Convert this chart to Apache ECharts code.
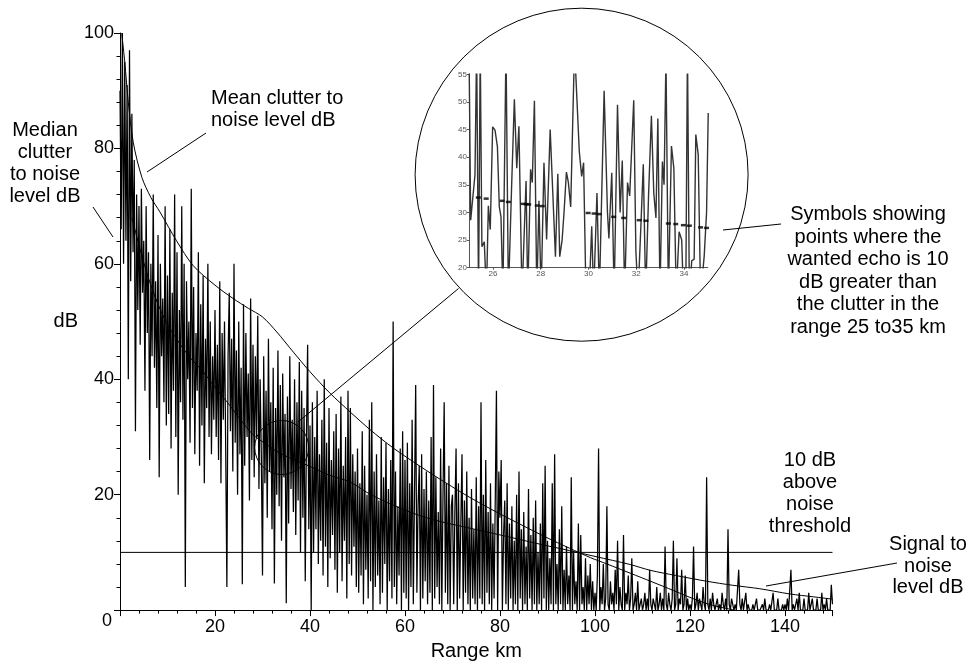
<!DOCTYPE html>
<html>
<head>
<meta charset="utf-8">
<script src="https://cdn.jsdelivr.net/npm/echarts@6/dist/echarts.min.js"></script>
<style>
html,body{margin:0;padding:0;background:#fff;}
#chart{width:973px;height:666px;}
</style>
</head>
<body>
<div id="chart"></div>
<script>
// ---------- DATA ----------
// Clutter-to-noise samples (dB), one value every 0.25 km, in 10 km blocks
const RANGE_STEP_KM = 0.25;
const clutter_000_010 = [90,66,100,60,95,64,91,40,97,57,86,62,78,31,72,52,70,46,73,55,64,38,70,48,62,26,60,44,72,42,57,35,65,23,60,44,54,36,70,32];
const clutter_010_020 = [58,34,66,28,55,38,72,30,62,20,52,36,70,33,60,4,57,40,50,29,73,35,56,27,48,38,62,25,53,32,58,22,47,35,60,30,50,27,44,33];
const clutter_020_030 = [52,30,46,26,57,22,48,33,50,28,4,44,55,31,47,24,60,29,45,20,50,27,42,4.5,53,25,48,30,41,19,54,26,46,23,44,30,51,21,40,27];
const clutter_030_040 = [6,44,22,38,16,47,24,36,14,42,4.6,35,20,45,18,39,12,41,23,34,1.2,37,15,44,21,33,17,40,13,36,19,43,10,38,16,35,5,30,46,14];
const clutter_040_050 = [32,0,36,10,30,14,38,8,27,12,33,6,40,11,29,4,35,9,26,13,31,7,34,3,28,10,37,5,25,12,30,2,38,8,35,6,27,11,24,4];
const clutter_050_060 = [28,3,22,6,31,1,25,7,20,2,33,5,36,0,24,4,27,6,19,1,30,3,23,8,29,0,21,5,26,2,50,4,24,1,18,6,28,0,31,3];
const clutter_060_070 = [26,2,29,0,22,4,33,1,20,39,3,18,25,0,27,2,21,5,24,1,19,3,30,0,39,2,23,4,17,1,28,0,20,36,3,22,1,25,0,18];
const clutter_070_080 = [20,1,17,28,0,22,2,15,27,0,19,3,24,1,16,0,21,2,14,1,23,0,18,2,36,1,20,0,26,3,17,1,22,0,15,2,19,38,0,24];
const clutter_080_090 = [16,26,0,13,19,1,22,0,15,2,18,0,12,1,20,0,24,2,14,0,17,1,11,0,21,2,13,0,16,1,19,0,10,1,15,0,22,2,25,0];
const clutter_090_100 = [12,0,9,1,22,0,27,1,8,0,14,1,18,0,7,0,11,1,6,0,23,0,10,1,5,0,15,0,13,1,4,0,9,0,6,1,8,0,5,0];
const clutter_100_110 = [3,0,6,28,0,4,1,8,0,2,18,1,0,5,1,3,0,7,1,12,0,4,1,0,13,0,3,1,6,0,2,9,0,1,3,0,5,0,1,2];
const clutter_110_120 = [0,1,3,0,2,0,7,1,0,2,1,0,4,0,1,3,0,2,0,11,1,0,3,1,0,2,12,0,1,9,0,2,1,7,0,1,6,0,2,0];
const clutter_120_130 = [1,0,2,11,0,1,3,0,2,1,0,4,1,0,23,1,0,2,0,3,1,0,1,2,0,1,0,3,1,0,2,0,14,1,0,2,1,0,1,0];
const clutter_130_140 = [0,7,1,0,2,0,0,3,0,1,0,0,0,1,0,0,2,0,0,0,0,1,0,2,0,0,0,1,0,0,3,0,0,0,2,0,0,0,1,0];
const clutter_140_150 = [1,0,2,0,0,7,0,1,0,0,2,0,3,0,0,0,2,0,0,0,3,0,0,2,0,0,0,2,0,0,0,3,0,1,0,2,0,0,0,4.4,1];

// Mean clutter to noise level (smooth curve)
const meanRange = [0.35,1,1.75,2.8,4.6,6.5,8.4,11.9,15.4,20,23.8,27,30,33,36.5,40,44.2,48.5,52.6,57.5,63.2,68.5,73.7,79,84.2,89.5,94.7,99,102.5,107.4,112,116.5,120,124,127,129.5];
const meanDb    = [100,95,88,81,75,71.5,69,64,59.7,56.3,54,52.3,50.8,48.2,44.7,41.3,37.6,34.3,31.3,28.1,24.9,22.1,19.5,17.1,14.9,12.7,10.7,9.1,8.0,6.4,4.9,3.4,2.2,1.0,0.4,0];

// Signal to noise level (smooth curve)
const snrRange = [2.5,4.2,6,8,10,11.9,14.5,17.5,20,22.5,25,28,30.5,33,36.5,40,44,48.4,52.6,58,62,66.7,72,80.7,88,94.7,100,107.4,111.6,117,123.5,129,134.7,141,146,150];
const snrDb    = [68,62.6,57.5,53,49.5,47,44,41.3,38.6,36.1,33.4,30.4,28.9,27.5,26.1,24.9,23.4,22.2,20.1,18,16.7,15.5,14.5,12.9,11.5,10.3,9.3,7.9,6.9,6.0,5.0,4.3,3.7,2.8,2.3,1.9];

// 10 dB above noise threshold
const thresholdRange = [0,150];
const thresholdDb = [10,10];

// Inset: clutter detail 25-35 km
const insetRange = [25.00,25.07,25.25,25.32,25.40,25.47,25.54,25.64,25.73,25.81,25.89,25.99,26.09,26.19,26.27,26.34,26.42,26.55,26.65,26.78,26.90,27.00,27.09,27.15,27.22,27.39,27.46,27.58,27.65,27.74,27.84,27.93,28.02,28.14,28.25,28.40,28.62,28.72,28.80,28.90,28.98,29.08,29.16,29.26,29.34,29.42,29.50,29.62,29.72,29.80,29.90,30.03,30.14,30.22,30.36,30.46,30.66,30.80,30.86,30.98,31.08,31.22,31.33,31.42,31.52,31.64,31.73,31.90,31.99,32.08,32.20,32.30,32.40,32.52,32.64,32.74,32.83,32.91,33.00,33.10,33.17,33.25,33.35,33.48,33.58,33.68,33.80,33.91,33.98,34.08,34.15,34.23,34.33,34.43,34.50,34.60,34.70,34.85,34.95,35.02];
const insetDb    = [60,28.6,36.8,60,15,60,23.8,24.7,15,31.2,26.9,45.5,44.9,41.9,31,29.2,15,60,15,34,50.5,38,45.6,45.9,15,35.7,15,37.8,35.4,50.2,15,32.1,15,39,25.1,45,22,37,22,25,30,37.3,35.5,31,31,60,60,41,36.5,39,15,15,27.5,15,33.5,15,52,30,25.3,37.2,15,49.5,30,39.4,15,35.4,33,50.3,23,15,27.6,38.7,15,33,47.5,33.5,29,47,15,39.2,35,58,15,42,38,15,26.5,25,15,15,60,15,21.3,21.5,44.1,40.5,15,22,30,48];

// Inset symbols: wanted echo 10 dB above clutter
const symbolRange = [25.39,25.72,26.39,26.65,27.27,27.40,27.50,27.86,28.07,29.99,30.24,30.45,31.06,31.48,32.13,32.41,33.35,33.66,33.98,34.23,34.70,34.95];
const symbolDb    = [32.7,32.5,32.1,31.9,31.55,31.5,31.45,31.25,31.15,29.9,29.8,29.7,29.2,29.0,28.6,28.5,28.0,27.9,27.7,27.6,27.3,27.2];

// Tick labels
const xTickLabels = [20,40,60,80,100,120,140];
const yTickLabels = [20,40,60,80,100];
const insetXTicks = [26,28,30,32,34];

// ---------- BUILD ----------
const clutterBlocks = [clutter_000_010,clutter_010_020,clutter_020_030,clutter_030_040,clutter_040_050,clutter_050_060,clutter_060_070,clutter_070_080,clutter_080_090,clutter_090_100,clutter_100_110,clutter_110_120,clutter_120_130,clutter_130_140,clutter_140_150];
const clutterData = [];
clutterBlocks.flat().forEach((v, i) => clutterData.push([i * RANGE_STEP_KM, v]));
const zip = (a, b) => a.map((x, i) => [x, b[i]]);

const FONT = 'Liberation Sans, Arial, Helvetica, sans-serif';
const chart = echarts.init(document.getElementById('chart'), null, {renderer: 'canvas'});

const textEl = (x, y, text, align, lh) => ({
  type: 'text', z: 100,
  style: {x: x, y: y, text: text, font: '20px ' + FONT, fill: '#000',
          textAlign: align, textVerticalAlign: 'middle', lineHeight: lh}
});
const lineEl = (x1, y1, x2, y2) => ({
  type: 'line', z: 100, shape: {x1: x1, y1: y1, x2: x2, y2: y2},
  style: {stroke: '#000', lineWidth: 1}
});

const option = {
  animation: false,
  backgroundColor: '#fff',
  grid: [
    {left: 120, top: 33, width: 712.5, height: 580, containLabel: false},
    {left: 469, top: 74.3, width: 238.75, height: 193.4, containLabel: false}
  ],
  xAxis: [
    {
      type: 'value', gridIndex: 0, min: 0, max: 150, interval: 20,
      name: 'Range km', nameLocation: 'middle', nameGap: 30,
      nameTextStyle: {fontFamily: FONT, fontSize: 20, color: '#000'},
      axisLine: {lineStyle: {color: '#000', width: 1}},
      axisTick: {show: true, length: 6, lineStyle: {color: '#000'}},
      minorTick: {show: true, splitNumber: 5, length: 3.5, lineStyle: {color: '#000'}},
      splitLine: {show: false},
      axisLabel: {fontFamily: FONT, fontSize: 18, color: '#000', margin: 8,
                  formatter: v => xTickLabels.includes(v) ? String(v) : ''}
    },
    {
      type: 'value', gridIndex: 1, min: 25, max: 35,
      axisLine: {lineStyle: {color: '#555', width: 1}},
      axisTick: {show: true, length: 2, customValues: insetXTicks, lineStyle: {color: '#555'}},
      splitLine: {show: false},
      axisLabel: {customValues: insetXTicks, fontFamily: FONT, fontSize: 8, color: '#555', margin: 2}
    }
  ],
  yAxis: [
    {
      type: 'value', gridIndex: 0, min: 0, max: 100, interval: 20,
      name: 'dB', nameLocation: 'middle', nameRotate: 0, nameGap: 39,
      nameTextStyle: {fontFamily: FONT, fontSize: 20, color: '#000'},
      axisLine: {show: true, lineStyle: {color: '#000', width: 1}},
      axisTick: {show: true, length: 6, lineStyle: {color: '#000'}},
      minorTick: {show: true, splitNumber: 5, length: 3.5, lineStyle: {color: '#000'}},
      splitLine: {show: false},
      axisLabel: {fontFamily: FONT, fontSize: 18, color: '#000', margin: 6,
                  formatter: v => yTickLabels.includes(v) ? String(v) : ''}
    },
    {
      type: 'value', gridIndex: 1, min: 20, max: 55, interval: 5,
      axisLine: {show: true, lineStyle: {color: '#555', width: 1}},
      axisTick: {show: true, length: 2, lineStyle: {color: '#555'}},
      splitLine: {show: false},
      axisLabel: {fontFamily: FONT, fontSize: 8, color: '#555', margin: 2}
    }
  ],
  series: [
    {type: 'line', name: 'clutter', xAxisIndex: 0, yAxisIndex: 0, data: clutterData,
     showSymbol: false, symbol: 'none', lineStyle: {color: '#000', width: 1.25}, z: 2, silent: true},
    {type: 'line', name: 'mean', xAxisIndex: 0, yAxisIndex: 0, data: zip(meanRange, meanDb),
     showSymbol: false, symbol: 'none', smooth: 0.3, lineStyle: {color: '#000', width: 1}, z: 3},
    {type: 'line', name: 'snr', xAxisIndex: 0, yAxisIndex: 0, data: zip(snrRange, snrDb),
     showSymbol: false, symbol: 'none', smooth: 0.3, lineStyle: {color: '#000', width: 1}, z: 3},
    {type: 'line', name: 'threshold', xAxisIndex: 0, yAxisIndex: 0, data: zip(thresholdRange, thresholdDb),
     showSymbol: false, symbol: 'none', lineStyle: {color: '#000', width: 1}, z: 3},
    {type: 'line', name: 'inset', xAxisIndex: 1, yAxisIndex: 1, data: zip(insetRange, insetDb),
     showSymbol: false, symbol: 'none', clip: true, lineStyle: {color: '#333', width: 1.4}, z: 4},
    {type: 'scatter', name: 'symbols', xAxisIndex: 1, yAxisIndex: 1, data: zip(symbolRange, symbolDb),
     symbol: 'rect', symbolSize: [5, 2.5], itemStyle: {color: '#000'}, z: 5}
  ],
  graphic: {elements: [
    {type: 'circle', z: 100, shape: {cx: 581.6, cy: 174.7, r: 166.5}, style: {fill: null, stroke: '#000', lineWidth: 1}},
    {type: 'circle', z: 100, shape: {cx: 281.7, cy: 447.5, r: 27}, style: {fill: null, stroke: '#000', lineWidth: 1}},
    lineEl(298, 422, 458.5, 288.5),
    lineEl(206, 133, 147, 172),
    lineEl(93, 207, 113, 237),
    lineEl(897, 563, 766, 586),
    lineEl(723, 230, 781, 224),
    {type: 'text', z: 100, style: {x: 107, y: 621, text: '0', font: '18px ' + FONT, fill: '#000', textAlign: 'center', textVerticalAlign: 'middle'}},
    textEl(211, 109, 'Mean clutter to\nnoise level dB', 'left', 22),
    textEl(45, 163.5, 'Median\nclutter\nto noise\nlevel dB', 'center', 21.7),
    textEl(868, 271, 'Symbols showing\npoints where the\nwanted echo is 10\ndB greater than\nthe clutter in the\nrange 25 to35 km', 'center', 22.5),
    textEl(810, 493.5, '10 dB\nabove\nnoise\nthreshold', 'center', 21.8),
    textEl(928, 566, 'Signal to\nnoise\nlevel dB', 'center', 21.5)
  ]}
};
chart.setOption(option);
</script>
</body>
</html>
